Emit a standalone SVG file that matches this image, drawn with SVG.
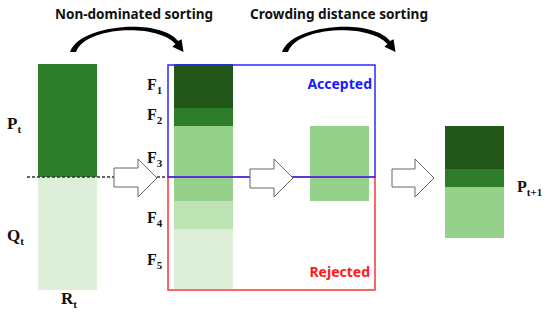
<svg xmlns="http://www.w3.org/2000/svg" width="550" height="320" viewBox="0 0 550 320">
<style>
.hdr{font-family:"Noto Sans","Open Sans",sans-serif;font-weight:bold;font-size:14px;fill:#111}
.lbl{font-family:"Liberation Serif","Times New Roman",serif;font-weight:bold;font-size:16px;fill:#111}
.big{font-size:17px}
.sub{font-size:11px}
.blk{fill:#fff;stroke:#666;stroke-width:1}
.curve{fill:#000}
</style>
<rect width="550" height="320" fill="#fff"/>
<g id="titles">
<text class="hdr" x="55" y="19" textLength="158" lengthAdjust="spacingAndGlyphs">Non-dominated sorting</text>
<text class="hdr" x="250" y="19" textLength="178" lengthAdjust="spacingAndGlyphs">Crowding distance sorting</text>
</g>
<g id="Rt">
<rect x="38" y="64" width="59" height="113" fill="#2e7d2a"/>
<rect x="38" y="177" width="59" height="113" fill="#ddefd8"/>
<text class="lbl big" x="7" y="129">P<tspan class="sub" dy="4">t</tspan></text>
<text class="lbl big" x="7" y="241">Q<tspan class="sub" dy="4">t</tspan></text>
<text class="lbl big" x="61" y="304">R<tspan class="sub" dy="4">t</tspan></text>
</g>
<g id="fronts">
<rect x="174" y="64" width="59" height="44" fill="#225719"/>
<rect x="174" y="108" width="59" height="18" fill="#2e7d2a"/>
<rect x="174" y="126" width="59" height="75" fill="#95d18a"/>
<rect x="174" y="201" width="59" height="28" fill="#bde2b4"/>
<rect x="174" y="229" width="59" height="60" fill="#ddefd8"/>
<text class="lbl" x="147" y="90">F<tspan class="sub" dy="4">1</tspan></text>
<text class="lbl" x="147" y="120">F<tspan class="sub" dy="4">2</tspan></text>
<text class="lbl" x="147" y="163">F<tspan class="sub" dy="4">3</tspan></text>
<text class="lbl" x="147" y="223">F<tspan class="sub" dy="4">4</tspan></text>
<text class="lbl" x="147" y="265">F<tspan class="sub" dy="4">5</tspan></text>
</g>
<g id="crowd">
<rect x="310" y="126" width="59" height="75" fill="#95d18a"/>
</g>
<g id="Pt1">
<rect x="445" y="126" width="59" height="43" fill="#225719"/>
<rect x="445" y="169" width="59" height="18" fill="#2e7d2a"/>
<rect x="445" y="187" width="59" height="51" fill="#95d18a"/>
<text class="lbl" x="517" y="192">P<tspan class="sub" dy="4">t+1</tspan></text>
</g>
<g id="rejected">
<rect x="168" y="177" width="207" height="113" fill="none" stroke="#ff3333" stroke-width="1.5"/>
<text x="370" y="277" text-anchor="end" font-family="Noto Sans, Open Sans, sans-serif" font-weight="bold" font-size="14" fill="#ff1a1a">Rejected</text>
</g>
<g id="accepted">
<rect x="168" y="65" width="207" height="112" fill="none" stroke="#2a2aff" stroke-width="1.5"/>
<text x="372" y="89" text-anchor="end" font-family="Noto Sans, Open Sans, sans-serif" font-weight="bold" font-size="14" fill="#1a1aff">Accepted</text>
</g>
<g id="connectors">
<line x1="27" y1="177" x2="167" y2="177" stroke="#333" stroke-width="1.5" stroke-dasharray="3,2"/>
<path class="blk" d="M114,168 H138 V159 L157,178 L138,197 V187 H114 Z"/>
<path class="blk" d="M250,169 H274 V159 L293,178 L274,197 V188 H250 Z"/>
<path class="blk" d="M392,169 H415 V159 L434,178 L415,197 V187 H392 Z"/>
<path class="curve" d="M70,52 C80,24 160,18 178,41 L181.6,39.2 L183.5,52 L172.4,46.8 L175.5,44 C158,23 85,26 76,52 Z"/>
<path class="curve" transform="translate(212,0)" d="M70,52 C80,24 160,18 178,41 L181.6,39.2 L183.5,52 L172.4,46.8 L175.5,44 C158,23 85,26 76,52 Z"/>
</g>
</svg>
